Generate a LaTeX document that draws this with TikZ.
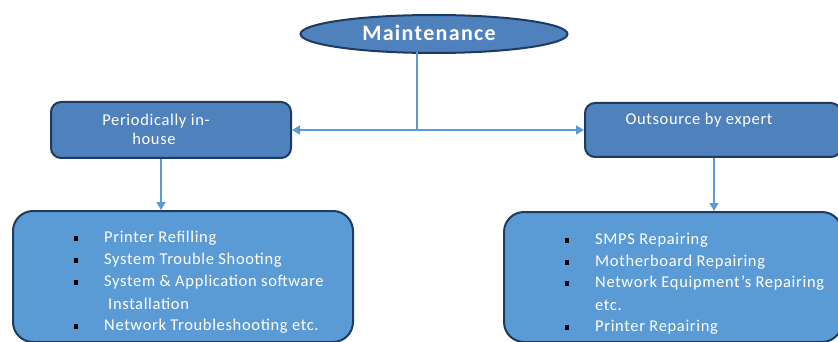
\documentclass[tikz,border=0pt]{standalone}
\usepackage{fontspec}
\setmainfont{Carlito}
\newfontfamily\smallfnt[LetterSpace=4]{Carlito}
\newfontfamily\bigfnt[LetterSpace=6]{Carlito}
\usetikzlibrary{arrows.meta,shapes.geometric}
\definecolor{darkfill}{HTML}{4F81BD}
\definecolor{lightfill}{HTML}{5B9BD5}
\definecolor{edgecol}{HTML}{1F3A5F}
\definecolor{linkcol}{HTML}{5B9BD5}
\tikzset{
  topbox/.style={draw=edgecol, line width=2pt, fill=darkfill, rounded corners=10pt, anchor=north west, inner sep=0pt},
  lowbox/.style={draw=edgecol, line width=2pt, fill=lightfill, rounded corners=20pt, anchor=north west, inner sep=0pt},
  txt/.style={text=white, font=\smallfnt\fontsize{16.5}{19}\selectfont, inner sep=0pt},
  itemtxt/.style={txt, anchor=west},
  bul/.style={fill=black, minimum width=4pt, minimum height=5pt, inner sep=0pt},
  link/.style={draw=linkcol, line width=1.3pt},
  linkarrow/.style={link, -{Triangle[width=9pt,length=8pt]}},
}
\begin{document}
\begin{tikzpicture}[x=1pt,y=-1pt]
\useasboundingbox (0,0) rectangle (838,342);
% root
\node[ellipse, draw=edgecol, line width=2pt, fill=darkfill, minimum width=267pt, minimum height=38pt, inner sep=0pt] (root) at (434,34) {};
\node[text=white, font=\bigfnt\bfseries\fontsize{22}{26}\selectfont, inner sep=0pt] (roottxt) at (429,33) {Maintenance};
% second level
\node[topbox, minimum width=240pt, minimum height=56pt] (pl) at (50,101) {};
\node[txt] (pltxt1) at (156,121) {Periodically in-};
\node[txt] (pltxt2) at (154,139) {house};
\node[topbox, minimum width=256pt, minimum height=54pt] (pr) at (584,102) {};
\node[txt] (prtxt) at (699,120) {Outsource by expert};
% lower boxes
\node[lowbox, minimum width=340pt, minimum height=131pt] (bl) at (12,210) {};
\node[lowbox, minimum width=338pt, minimum height=130pt] (br) at (503,211) {};
% connectors
\coordinate (top) at (417,52);
\coordinate (junc) at (417,130);
\draw[link] (top) -- (junc);
\draw[linkarrow] (junc) -- (pl.east |- junc);
\draw[linkarrow] (junc) -- (pr.west |- junc);
\coordinate (ax) at (161,0);
\coordinate (bx) at (714,0);
\draw[linkarrow] (pl.south -| ax) -- (bl.north -| ax);
\draw[linkarrow] (pr.south -| bx) -- (br.north -| bx);
% left list
\node[bul] (lb1) at (76,238) {};
\node[bul] (lb2) at (76,260) {};
\node[bul] (lb3) at (76,282) {};
\node[bul] (lb4) at (76,326) {};
\node[itemtxt] (lt1) at (104,238) {Printer Refilling};
\node[itemtxt] (lt2) at (104,260) {System Trouble Shooting};
\node[itemtxt] (lt3) at (104,282) {System \& Application software};
\node[itemtxt] (lt3b) at (108,304) {Installation};
\node[itemtxt] (lt4) at (104,326) {Network Troubleshooting etc.};
% right list
\node[bul] (rb1) at (567,240) {};
\node[bul] (rb2) at (567,262) {};
\node[bul] (rb3) at (567,283) {};
\node[bul] (rb4) at (567,327) {};
\node[itemtxt] (rt1) at (595,240) {SMPS Repairing};
\node[itemtxt] (rt2) at (595,262) {Motherboard Repairing};
\node[itemtxt] (rt3) at (595,283) {Network Equipment’s Repairing};
\node[itemtxt] (rt3b) at (595,305) {etc.};
\node[itemtxt] (rt4) at (595,327) {Printer Repairing};
\end{tikzpicture}
\end{document}
